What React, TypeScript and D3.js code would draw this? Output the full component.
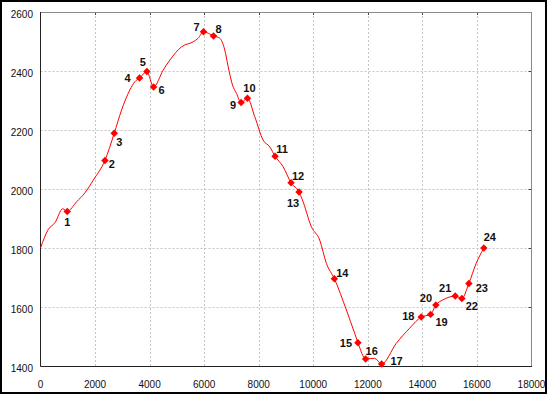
import React, { useEffect, useRef } from 'react';
import * as d3 from 'd3';

// elevation profile (distance, elevation)
const profileDist = [0, 286, 532, 813, 981, 1325, 1630, 1934, 2362, 2703, 2973, 3277, 3461, 3632, 3900, 4145, 4497, 4742, 5171, 5596, 5779, 5976, 6342, 6573, 6756, 6879, 7037, 7184, 7354, 7587, 7855, 8160, 8404, 8600, 8892, 9185, 9478, 9602, 9931, 10235, 10480, 10773, 11213, 11517, 11638, 11920, 12249, 12506, 13044, 13531, 13959, 14300, 14495, 14751, 15204, 15447, 15704, 15973, 16253];
const profileElev = [1800, 1863, 1886, 1933, 1924, 1957, 1987, 2030, 2097, 2189, 2268, 2336, 2364, 2376, 2398, 2346, 2403, 2437, 2482, 2499, 2511, 2533, 2519, 2511, 2471, 2415, 2353, 2324, 2293, 2308, 2245, 2166, 2143, 2111, 2076, 2021, 1990, 1963, 1872, 1827, 1748, 1696, 1590, 1511, 1479, 1424, 1426, 1407, 1477, 1528, 1566, 1575, 1607, 1624, 1637, 1629, 1680, 1748, 1800];

// numbered waypoints
const pointLabels = ['1', '2', '3', '4', '5', '6', '7', '8', '9', '10', '11', '12', '13', '14', '15', '16', '17', '18', '19', '20', '21', '22', '23', '24'];
const pointDist = [981, 2362, 2703, 3632, 3900, 4145, 5976, 6342, 7354, 7587, 8600, 9185, 9478, 10773, 11638, 11920, 12506, 13959, 14300, 14495, 15204, 15447, 15704, 16253];
const pointElev = [1924, 2097, 2189, 2376, 2398, 2346, 2533, 2519, 2293, 2308, 2111, 2021, 1990, 1696, 1479, 1424, 1407, 1566, 1575, 1607, 1637, 1629, 1680, 1800];

const xTicks = [0, 2000, 4000, 6000, 8000, 10000, 12000, 14000, 16000, 18000];
const yTicks = [1400, 1600, 1800, 2000, 2200, 2400, 2600];

// label placement around each marker (dx, dy of label centre)
const labelOffsets: [number, number][] = [
  [0, 11], [7, 4], [5, 9], [-12, 0], [-4, -10], [8, 3], [-7, -5], [5, -7],
  [-8, 2], [2, -10], [7, -7], [7, -7], [-6, 11], [8, -6], [-12, 0], [6, -8],
  [15, -3], [-13, -1], [11, 8], [-10, -7], [-10, -8], [10, 8], [13, 5], [6, -11],
];

export default function App() {
  const ref = useRef<SVGSVGElement>(null);

  useEffect(() => {
    const svg = d3.select(ref.current);
    svg.selectAll('*').remove();

    const left = 40.5, right = 531.5, top = 12, bottom = 366;
    const x = d3.scaleLinear().domain([0, 18000]).range([left, right]);
    const y = d3.scaleLinear().domain([1400, 2600]).range([bottom, top]);
    const font = "'Liberation Sans', Arial, sans-serif";

    svg.append('rect')
      .attr('width', 550).attr('height', 398).attr('fill', '#fff');
    // outer frame
    svg.append('rect')
      .attr('x', 1).attr('y', 1).attr('width', 545).attr('height', 392)
      .attr('fill', 'none').attr('stroke', '#000').attr('stroke-width', 2);

    // grid
    const grid = svg.append('g')
      .attr('stroke', '#c4c4c4').attr('stroke-dasharray', '2,2').attr('stroke-width', 1);
    xTicks.slice(1, -1).forEach(t => {
      grid.append('line').attr('x1', Math.round(x(t)) + 0.5).attr('x2', Math.round(x(t)) + 0.5)
        .attr('y1', top).attr('y2', bottom);
    });
    yTicks.slice(1, -1).forEach(t => {
      grid.append('line').attr('y1', Math.round(y(t)) + 0.5).attr('y2', Math.round(y(t)) + 0.5)
        .attr('x1', left).attr('x2', right);
    });

    // small ticks on top and right
    const ticks = svg.append('g').attr('stroke', '#444').attr('stroke-width', 1);
    xTicks.slice(1, -1).forEach(t => {
      ticks.append('line').attr('x1', Math.round(x(t)) + 0.5).attr('x2', Math.round(x(t)) + 0.5)
        .attr('y1', top).attr('y2', top + 3);
    });
    yTicks.slice(1, -1).forEach(t => {
      ticks.append('line').attr('y1', Math.round(y(t)) + 0.5).attr('y2', Math.round(y(t)) + 0.5)
        .attr('x1', right - 3).attr('x2', right);
    });

    // plot frame: top/right grey, left/bottom dark
    svg.append('line').attr('x1', left).attr('x2', right + 0.5).attr('y1', top + 0.5).attr('y2', top + 0.5)
      .attr('stroke', '#8a8a8a');
    svg.append('line').attr('x1', right).attr('x2', right).attr('y1', top).attr('y2', bottom)
      .attr('stroke', '#8a8a8a');
    svg.append('line').attr('x1', left).attr('x2', left).attr('y1', top).attr('y2', bottom + 0.5)
      .attr('stroke', '#222');
    svg.append('line').attr('x1', left).attr('x2', right + 0.5).attr('y1', bottom + 0.5).attr('y2', bottom + 0.5)
      .attr('stroke', '#222');

    // tick labels
    svg.append('g').selectAll('text').data(xTicks).enter().append('text')
      .attr('x', d => x(d)).attr('y', 388)
      .attr('text-anchor', 'middle').attr('font-family', font).attr('font-size', 10).attr('fill', '#111')
      .text(d => String(d));
    svg.append('g').selectAll('text').data(yTicks).enter().append('text')
      .attr('x', 33).attr('y', d => y(d) + 6)
      .attr('text-anchor', 'end').attr('font-family', font).attr('font-size', 10).attr('fill', '#111')
      .text(d => String(d));

    // profile line
    const line = d3.line<number>()
      .x((_, i) => x(profileDist[i]))
      .y(d => y(d))
      .curve(d3.curveMonotoneX);
    svg.append('path')
      .attr('d', line(profileElev))
      .attr('fill', 'none').attr('stroke', '#ff0000').attr('stroke-width', 1);

    // markers
    const sym = d3.symbol().type(d3.symbolSquare).size(28);
    svg.append('g').selectAll('path').data(pointElev).enter().append('path')
      .attr('d', sym() as string)
      .attr('transform', (d, i) => `translate(${x(pointDist[i])},${y(d)}) rotate(45)`)
      .attr('fill', '#ff0000');

    // labels
    svg.append('g').selectAll('text').data(pointLabels).enter().append('text')
      .attr('x', (_, i) => x(pointDist[i]) + labelOffsets[i][0])
      .attr('y', (_, i) => y(pointElev[i]) + labelOffsets[i][1] + 4)
      .attr('text-anchor', 'middle').attr('font-family', font).attr('font-size', 11)
      .attr('font-weight', 'bold').attr('fill', '#111')
      .text(d => d);
  }, []);

  return (
    <svg ref={ref} width={550} height={398}
      style={{ position: 'absolute', left: 0, top: 0, display: 'block' }} />
  );
}
